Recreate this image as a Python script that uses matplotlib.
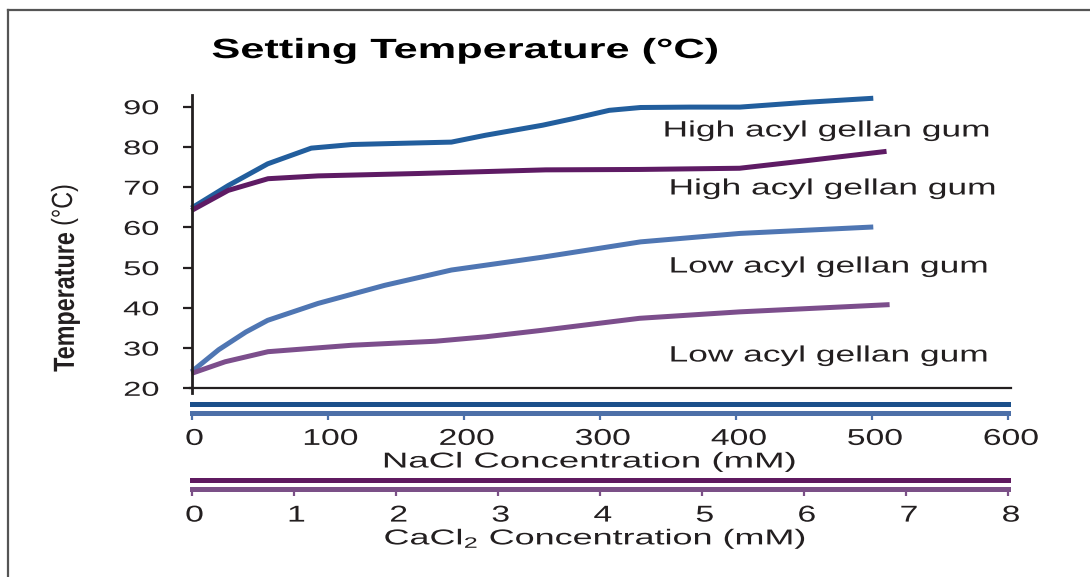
import matplotlib
matplotlib.use("Agg")
import matplotlib.pyplot as plt
from matplotlib.patheffects import AbstractPathEffect
from matplotlib.transforms import Affine2D, ScaledTranslation
from matplotlib.lines import Line2D

plt.rcParams['font.family'] = ['Liberation Sans', 'DejaVu Sans']
plt.rcParams['mathtext.fontset'] = 'custom'
plt.rcParams['mathtext.rm'] = 'Liberation Sans'
plt.rcParams['mathtext.default'] = 'regular'

# ---------------- data ----------------
title = "Setting Temperature (°C)"
nacl_ticks = [0, 100, 200, 300, 400, 500, 600]
cacl2_ticks = [0, 1, 2, 3, 4, 5, 6, 7, 8]
y_ticks = [20, 30, 40, 50, 60, 70, 80, 90]

# High acyl gellan gum vs NaCl (mM)
high_nacl_x = [0, 27, 56, 88, 118, 154, 191, 216, 258, 280, 307, 330, 366, 403, 452, 501]
high_nacl_y = [64.8, 70.4, 75.8, 79.7, 80.6, 80.9, 81.2, 82.9, 85.4, 87.0, 89.1, 89.8, 89.9, 89.9, 91.1, 92.1]
# High acyl gellan gum vs CaCl2 (mM)
high_cacl2_x = [0, 0.36, 0.75, 1.24, 2.23, 3.47, 4.39, 5.37, 6.03, 6.81]
high_cacl2_y = [64.2, 69.2, 72.1, 72.8, 73.4, 74.3, 74.4, 74.7, 76.6, 78.9]
# Low acyl gellan gum vs NaCl (mM)
low_nacl_x = [0, 20, 40, 56, 93, 142, 191, 258, 330, 403, 501]
low_nacl_y = [24.1, 29.6, 34.0, 36.9, 41.1, 45.6, 49.4, 52.6, 56.4, 58.5, 60.1]
# Low acyl gellan gum vs CaCl2 (mM)
low_cacl2_x = [0, 0.33, 0.75, 1.57, 2.39, 2.88, 3.43, 4.39, 5.37, 6.84]
low_cacl2_y = [23.7, 26.6, 29.1, 30.7, 31.7, 32.8, 34.4, 37.4, 39.0, 40.8]

labels = ["High acyl gellan gum", "High acyl gellan gum",
          "Low acyl gellan gum", "Low acyl gellan gum"]

# ---------------- styling helpers ----------------
class StretchX(AbstractPathEffect):
    """Stretch a text horizontally (display x) about an anchor of its ink box."""
    def __init__(self, sx, anchor='center'):
        super().__init__()
        self.sx = sx
        self.anchor = anchor

    def draw_path(self, renderer, gc, tpath, affine, rgbFace=None):
        ext = tpath.get_extents(affine)
        if self.anchor == 'left':
            x0 = ext.x0
        elif self.anchor == 'right':
            x0 = ext.x1
        else:
            x0 = 0.5 * (ext.x0 + ext.x1)
        new = affine + Affine2D().translate(-x0, 0).scale(self.sx, 1.0).translate(x0, 0)
        renderer.draw_path(gc, tpath, new, rgbFace)


W, H = 1090, 577
def fx(x):
    return x / W
def fy(y):
    return 1 - y / H

TXT = '#231f20'
C_HIGH_NA = '#225e9d'
C_HIGH_CA = '#5e1b64'
C_LOW_NA = '#4f76b3'
C_LOW_CA = '#7c4e8c'
BAR_NA_D = '#1b4f8a'
BAR_NA_L = '#4d70a8'
BAR_CA_D = '#5f1a60'
BAR_CA_L = '#7b5087'

fig = plt.figure(figsize=(W / 100, H / 100), dpi=100)
fig.patch.set_facecolor('white')

# frame lines of the original slide
fig.add_artist(Line2D([fx(8), 1.0], [fy(10), fy(10)], color='#555555', lw=1.6))
fig.add_artist(Line2D([fx(8), fx(8)], [fy(10), 0.0], color='#555555', lw=1.6))

# ---------------- main axes ----------------
x_left, x_right = 191.5, 1008.0
ppd = (388.3 - 106.7) / 70.0
ylo, yhi = 18.8, 93.0
ax = fig.add_axes([fx(x_left), fy(388.3 + (20 - ylo) * ppd),
                   fx(x_right) - fx(x_left),
                   (yhi - ylo) * ppd / H])
ax.set_xlim(0, 600)
ax.set_ylim(ylo, yhi)
ax.patch.set_alpha(0)
for s in ['top', 'right']:
    ax.spines[s].set_visible(False)
ax.spines['left'].set_linewidth(2.0)
ax.spines['left'].set_color(TXT)
ax.spines['bottom'].set_position(('data', 20))
ax.spines['bottom'].set_linewidth(1.6)
ax.spines['bottom'].set_color(TXT)
ax.spines['bottom'].set_bounds(-1, 602)
ax.set_xticks([])
ax.set_yticks(y_ticks)
ax.tick_params(axis='y', direction='out', length=6.5, width=1.6, color=TXT,
               labelsize=14.5, labelcolor=TXT, pad=17)
for t in ax.yaxis.get_major_ticks():
    t.label1.set_path_effects([StretchX(1.62, 'right')])

lw = 3.6
kw = dict(lw=lw, solid_capstyle='butt', solid_joinstyle='round', clip_on=False)
ax.plot(high_nacl_x, high_nacl_y, color=C_HIGH_NA, **kw)
ax.plot([v * 75 for v in high_cacl2_x], high_cacl2_y, color=C_HIGH_CA, **kw)
ax.plot(low_nacl_x, low_nacl_y, color=C_LOW_NA, **kw)
ax.plot([v * 75 for v in low_cacl2_x], low_cacl2_y, color=C_LOW_CA, **kw)

# series labels
label_pos = [(827, 131), (833, 189), (829, 267), (829, 356)]
for (px, py), lab in zip(label_pos, labels):
    fig.text(fx(px), fy(py), lab, ha='center', va='center', fontsize=16, color=TXT,
             path_effects=[StretchX(1.59, 'center')])

# title
fig.text(fx(465), fy(51), title, ha='center', va='center', fontsize=20, fontweight='bold',
         color='black', path_effects=[StretchX(1.56, 'center')])

# y label (two parts)
fig.text(fx(66), fy(302), "Temperature", rotation=90, ha='center', va='center',
         fontsize=16.8, fontweight='bold', color=TXT, path_effects=[StretchX(1.25, 'center')])
fig.text(fx(64), fy(205), "(°C)", rotation=90, ha='center', va='center',
         fontsize=16.8, color=TXT, path_effects=[StretchX(1.25, 'center')])

# ---------------- concentration scale bars ----------------
def scale_axes(y_top, y_bot, xmax, ticks, dark, light, pad):
    a = fig.add_axes([fx(x_left), fy(y_bot), fx(x_right) - fx(x_left), (y_bot - y_top) / H])
    a.set_xlim(0, xmax)
    a.set_ylim(0, 1)
    a.patch.set_alpha(0)
    a.spines['left'].set_visible(False)
    a.spines['right'].set_visible(False)
    a.spines['top'].set_color(dark)
    a.spines['top'].set_linewidth(3.6)
    a.spines['bottom'].set_color(light)
    a.spines['bottom'].set_linewidth(3.6)
    a.set_yticks([])
    a.set_xticks(ticks)
    a.tick_params(axis='x', direction='out', length=5.0, width=1.6, color=light,
                  labelsize=16.5, labelcolor=TXT, pad=pad)
    shift = ScaledTranslation(3 / 100, 0, fig.dpi_scale_trans)
    for t in a.xaxis.get_major_ticks():
        t.label1.set_path_effects([StretchX(1.47, 'center')])
        t.label1.set_transform(t.label1.get_transform() + shift)
    return a

ax_na = scale_axes(404, 413, 600, nacl_ticks, BAR_NA_D, BAR_NA_L, 5.0)
ax_ca = scale_axes(480, 489, 8, cacl2_ticks, BAR_CA_D, BAR_CA_L, 5.5)

fig.text(fx(589), fy(462), "NaCl Concentration (mM)", ha='center', va='center',
         fontsize=15.5, color=TXT, path_effects=[StretchX(1.7, 'center')])
fig.text(fx(595), fy(539), "CaCl$_2$ Concentration (mM)", ha='center', va='center',
         fontsize=15.5, color=TXT, path_effects=[StretchX(1.67, 'center')])

fig.savefig('out.png', dpi=100, facecolor='white')
